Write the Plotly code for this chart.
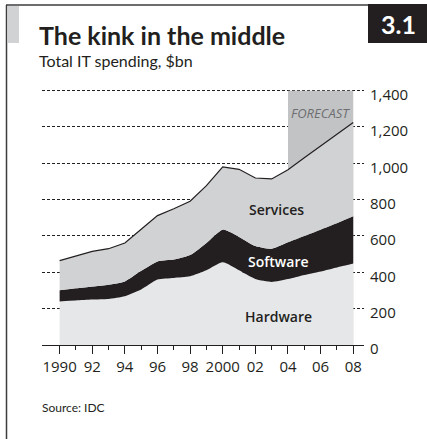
import plotly.graph_objects as go

# Total IT spending by segment, $bn (2004-2008 forecast)
years = list(range(1990, 2009))
hardware = [240, 245, 250, 253, 268, 305, 360, 369, 378, 411, 455, 411, 363, 347, 363, 385, 405, 427, 448]
software = [61, 67, 72, 79, 82, 103, 100, 101, 117, 151, 180, 184, 182, 183, 202, 215, 230, 243, 260]
services = [163, 178, 193, 198, 211, 229, 252, 280, 296, 315, 345, 372, 374, 384, 400, 430, 460, 490, 517]

segment_labels = ["Hardware", "Software", "Services"]
y_ticks = [0, 200, 400, 600, 800, 1000, 1200, 1400]
y_ticktext = ["0", "200", "400", "600", "800", "1,000", "1,200", "1,400"]
x_ticks = [1990, 1992, 1994, 1996, 1998, 2000, 2002, 2004, 2006, 2008]
x_ticktext = ["1990", "92", "94", "96", "98", "2000", "02", "04", "06", "08"]
forecast_start, forecast_end = 2004, 2008

W, H = 427, 439
L, R, T, B = 42, 63, 87, 94
PW, PH = W - L - R, H - T - B

TITLE_FONT = "Lato"
FONT = "Open Sans"
INK = "#231f20"


def px(x):
    return (x - L) / PW


def py(y):
    return (H - B - y) / PH


fig = go.Figure()

fig.add_trace(go.Scatter(
    x=years, y=hardware, stackgroup="it", mode="lines",
    line=dict(width=0, shape="spline", smoothing=0.6),
    fillcolor="#e6e7e8", name=segment_labels[0], hoverinfo="x+y",
))
fig.add_trace(go.Scatter(
    x=years, y=software, stackgroup="it", mode="lines",
    line=dict(width=0, shape="spline", smoothing=0.6),
    fillcolor=INK, name=segment_labels[1], hoverinfo="x+y",
))
fig.add_trace(go.Scatter(
    x=years, y=services, stackgroup="it", mode="lines",
    line=dict(width=1.2, color=INK),
    fillcolor="#d1d2d4", name=segment_labels[2], hoverinfo="x+y",
))

shapes = [
    # forecast band, above the grid but under the areas
    dict(type="rect", xref="x", yref="y", x0=forecast_start, x1=forecast_end,
         y0=0, y1=1400, fillcolor="#c2c3c5", line=dict(width=0), layer="between"),
    # frame
    dict(type="line", xref="paper", yref="paper", x0=px(6), x1=px(427), y0=py(5), y1=py(5),
         line=dict(color="#3c3c3c", width=1.5)),
    dict(type="line", xref="paper", yref="paper", x0=px(6.5), x1=px(6.5), y0=py(5), y1=py(439),
         line=dict(color="#3c3c3c", width=1.5)),
    # grey tab beside the title
    dict(type="rect", xref="paper", yref="paper", x0=px(8), x1=px(19), y0=py(43), y1=py(6),
         fillcolor="#d1d2d4", line=dict(width=0)),
    # chart number box
    dict(type="rect", xref="paper", yref="paper", x0=px(368), x1=px(428), y0=py(43), y1=py(4),
         fillcolor=INK, line=dict(width=0)),
]

annotations = [
    dict(text="<b>The kink in the middle</b>", x=px(37), y=py(35), xref="paper", yref="paper",
         xanchor="left", yanchor="middle", showarrow=False,
         font=dict(family=TITLE_FONT, size=25, color=INK)),
    dict(text="Total IT spending, $bn", x=px(37), y=py(60), xref="paper", yref="paper",
         xanchor="left", yanchor="middle", showarrow=False,
         font=dict(family=TITLE_FONT, size=16, color=INK)),
    dict(text="<b>3.1</b>", x=px(398), y=py(24), xref="paper", yref="paper",
         xanchor="center", yanchor="middle", showarrow=False,
         font=dict(family=TITLE_FONT, size=25, color="white")),
    dict(text="Source: IDC", x=px(40), y=py(407), xref="paper", yref="paper",
         xanchor="left", yanchor="middle", showarrow=False,
         font=dict(family=TITLE_FONT, size=12, color=INK)),
    dict(text="<i>FORECAST</i>", x=2006, y=1278, xref="x", yref="y",
         xanchor="center", yanchor="middle", showarrow=False,
         font=dict(family=FONT, size=13, color="#6d6e71")),
    dict(text="Services", x=2003.3, y=745, xref="x", yref="y", showarrow=False,
         font=dict(family=FONT, size=14, color=INK, weight=600)),
    dict(text="Software", x=2003.4, y=460, xref="x", yref="y", showarrow=False,
         font=dict(family=FONT, size=14, color="white", weight=600)),
    dict(text="Hardware", x=2003.4, y=157, xref="x", yref="y", showarrow=False,
         font=dict(family=FONT, size=14, color=INK, weight=600)),
]

fig.update_layout(
    width=W, height=H,
    margin=dict(l=L, r=R, t=T, b=B),
    paper_bgcolor="white", plot_bgcolor="white",
    showlegend=False,
    font=dict(family=FONT, color=INK),
    shapes=shapes,
    annotations=annotations,
    xaxis=dict(
        range=[1988.92, 2008.66],
        tickvals=x_ticks, ticktext=x_ticktext,
        ticks="outside", ticklen=8, tickwidth=1.2, tickcolor=INK,
        minor=dict(tickvals=[y for y in years if y % 2 == 1], ticks="outside",
                   ticklen=4, tickwidth=1.2, tickcolor=INK),
        showline=True, linecolor=INK, linewidth=1.2,
        showgrid=False, zeroline=False,
        tickfont=dict(family=FONT, size=15, color=INK, weight=500),
        fixedrange=True,
    ),
    yaxis=dict(
        range=[0, 1420], side="right",
        tickvals=y_ticks, ticktext=y_ticktext,
        ticks="", ticklabelstandoff=5, ticklabelshift=4,
        showgrid=True, gridcolor=INK, gridwidth=1, griddash="3px,2px",
        zeroline=False, showline=False,
        tickfont=dict(family=FONT, size=15, color=INK, weight=500),
        fixedrange=True,
    ),
)

fig.write_html("out.html")
